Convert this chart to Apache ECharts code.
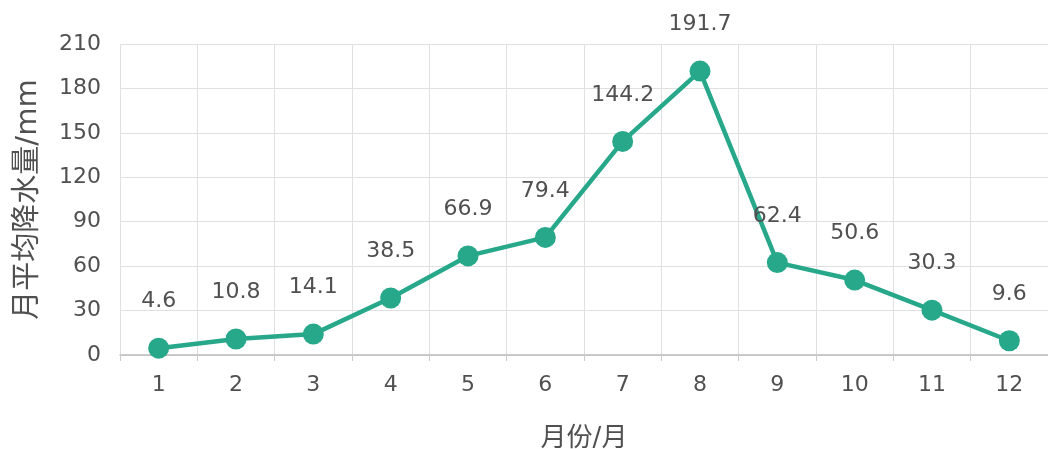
<!DOCTYPE html>
<html>
<head>
<meta charset="utf-8">
<script src="https://cdn.jsdelivr.net/npm/echarts@6/dist/echarts.min.js"></script>
<style>
  html, body { margin: 0; padding: 0; background: #fff; }
  #chart { width: 1048px; height: 449px; }
</style>
</head>
<body>
<div id="chart"></div>
<script>
// Monthly average precipitation
const months = ['1', '2', '3', '4', '5', '6', '7', '8', '9', '10', '11', '12'];
const rainfall = [4.6, 10.8, 14.1, 38.5, 66.9, 79.4, 144.2, 191.7, 62.4, 50.6, 30.3, 9.6];
const yMin = 0, yMax = 210, yStep = 30;

const FONT = '"DejaVu Sans", "Noto Sans CJK SC", sans-serif';
const TEXT = '#505050';
const LINE = '#27a88a';
const chart = echarts.init(document.getElementById('chart'));

chart.setOption({
  backgroundColor: '#fff',
  textStyle: { fontFamily: FONT },
  grid: { left: 120, right: 0, top: 44, bottom: 94, containLabel: false, outerBoundsMode: 'none' },
  xAxis: {
    type: 'category',
    data: months,
    boundaryGap: true,
    name: '月份/月',
    nameLocation: 'middle',
    nameGap: 71,
    nameTextStyle: { fontSize: 26, color: TEXT, fontFamily: FONT },
    axisLine: { lineStyle: { color: '#bbb', width: 1.5 } },
    axisTick: { show: true, length: 6, lineStyle: { color: '#ccc' } },
    axisLabel: { fontSize: 22, color: TEXT, margin: 19, fontFamily: FONT },
    splitLine: { show: true, lineStyle: { color: '#e0e0e0' } }
  },
  yAxis: {
    type: 'value',
    min: yMin,
    max: yMax,
    interval: yStep,
    name: '月平均降水量/mm',
    nameLocation: 'middle',
    nameGap: 77,
    nameTextStyle: { fontSize: 29, color: TEXT, fontFamily: FONT },
    axisLine: { show: false },
    axisTick: { show: false },
    axisLabel: { fontSize: 22, color: TEXT, margin: 19, fontFamily: FONT },
    splitLine: { show: true, lineStyle: { color: '#e0e0e0' } }
  },
  series: [{
    type: 'line',
    data: rainfall,
    symbol: 'circle',
    symbolSize: 21,
    itemStyle: { color: LINE },
    lineStyle: { color: LINE, width: 4.5 },
    label: {
      show: true,
      position: 'top',
      distance: 25,
      fontSize: 22,
      color: TEXT,
      fontFamily: FONT
    },
    animation: false
  }]
});
</script>
</body>
</html>
